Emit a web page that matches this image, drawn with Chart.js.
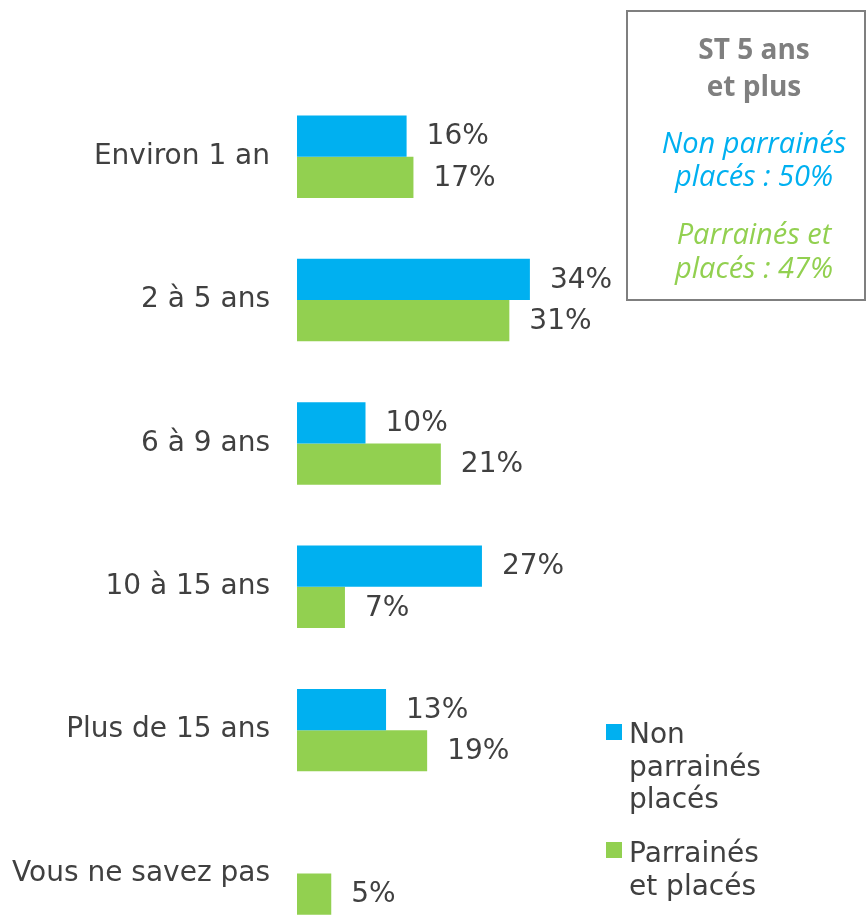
<!DOCTYPE html>
<html>
<head>
<meta charset="utf-8">
<script src="https://cdn.jsdelivr.net/npm/chart.js@4"></script>
<style>
  html, body { margin: 0; padding: 0; background: #ffffff; overflow: hidden; }
  #wrap { width: 866px; height: 916px; overflow: hidden; }
  canvas { display: block; }
</style>
</head>
<body>
<div id="wrap"><canvas id="c" width="866" height="989"></canvas></div>
<script>
const categories = ["Environ 1 an", "2 à 5 ans", "6 à 9 ans", "10 à 15 ans", "Plus de 15 ans", "Vous ne savez pas"];
const nonParraines = [16, 34, 10, 27, 13, null];
const parraines = [17, 31, 21, 7, 19, 5];
const seriesNames = [["Non", "parrainés", "placés"], ["Parrainés", "et placés"]];
const boxTitle = ["ST 5 ans", "et plus"];
const boxBlue = ["Non parrainés", "placés : 50%"];
const boxGreen = ["Parrainés et", "placés : 47%"];

const BLUE = "#00B0F0";
const GREEN = "#92D050";
const TEXT = "#404040";
const FONT = "DejaVu Sans";

const valueLabels = {
  id: "valueLabels",
  afterDatasetsDraw(chart) {
    const ctx = chart.ctx;
    ctx.save();
    ctx.font = "28px '" + FONT + "'";
    ctx.fillStyle = TEXT;
    ctx.textAlign = "left";
    ctx.textBaseline = "middle";
    chart.data.datasets.forEach((ds, di) => {
      const meta = chart.getDatasetMeta(di);
      meta.data.forEach((bar, i) => {
        const v = ds.data[i];
        if (v === null || v === undefined) return;
        ctx.fillText(v + "%", bar.x + 20, bar.y + 1);
      });
    });
    ctx.restore();
  }
};

const extras = {
  id: "extras",
  afterDraw(chart) {
    const ctx = chart.ctx;
    ctx.save();
    // summary box
    ctx.strokeStyle = "#7F7F7F";
    ctx.lineWidth = 2;
    ctx.strokeRect(627, 11, 238, 289);
    ctx.textAlign = "center";
    ctx.textBaseline = "alphabetic";
    const cx = 754;
    ctx.fillStyle = "#7F7F7F";
    ctx.font = "bold 28px 'Open Sans'";
    ctx.fillText(boxTitle[0], cx, 59);
    ctx.fillText(boxTitle[1], cx, 96);
    ctx.font = "italic 29px 'Open Sans'";
    ctx.fillStyle = BLUE;
    ctx.fillText(boxBlue[0], cx, 153);
    ctx.fillText(boxBlue[1], cx, 186);
    ctx.fillStyle = GREEN;
    ctx.fillText(boxGreen[0], cx, 244);
    ctx.fillText(boxGreen[1], cx, 278);

    // legend
    ctx.textAlign = "left";
    ctx.font = "28px '" + FONT + "'";
    const items = [
      { color: BLUE, lines: seriesNames[0], sq: 724, base: 743 },
      { color: GREEN, lines: seriesNames[1], sq: 842, base: 862 }
    ];
    items.forEach(it => {
      ctx.fillStyle = it.color;
      ctx.fillRect(606, it.sq, 16, 16);
      ctx.fillStyle = TEXT;
      it.lines.forEach((t, k) => ctx.fillText(t, 629, it.base + k * 32.5));
    });
    ctx.restore();
  }
};

new Chart(document.getElementById("c"), {
  type: "bar",
  data: {
    labels: categories,
    datasets: [
      { label: "Non parrainés placés", data: nonParraines, backgroundColor: BLUE, borderWidth: 0 },
      { label: "Parrainés et placés", data: parraines, backgroundColor: GREEN, borderWidth: 0 }
    ]
  },
  options: {
    indexAxis: "y",
    responsive: false,
    animation: false,
    devicePixelRatio: 1,
    layout: { padding: { top: 85, bottom: 15, left: 0, right: 21 } },
    datasets: { bar: { categoryPercentage: 0.575, barPercentage: 1 } },
    plugins: { legend: { display: false }, tooltip: { enabled: false } },
    scales: {
      x: { display: false, min: 0, max: 80 },
      y: {
        grid: { display: false, drawTicks: false },
        border: { display: false },
        ticks: { color: TEXT, font: { family: FONT, size: 28 }, padding: 27 },
        afterFit(scale) { scale.width = 297; }
      }
    }
  },
  plugins: [valueLabels, extras]
});
</script>
</body>
</html>
